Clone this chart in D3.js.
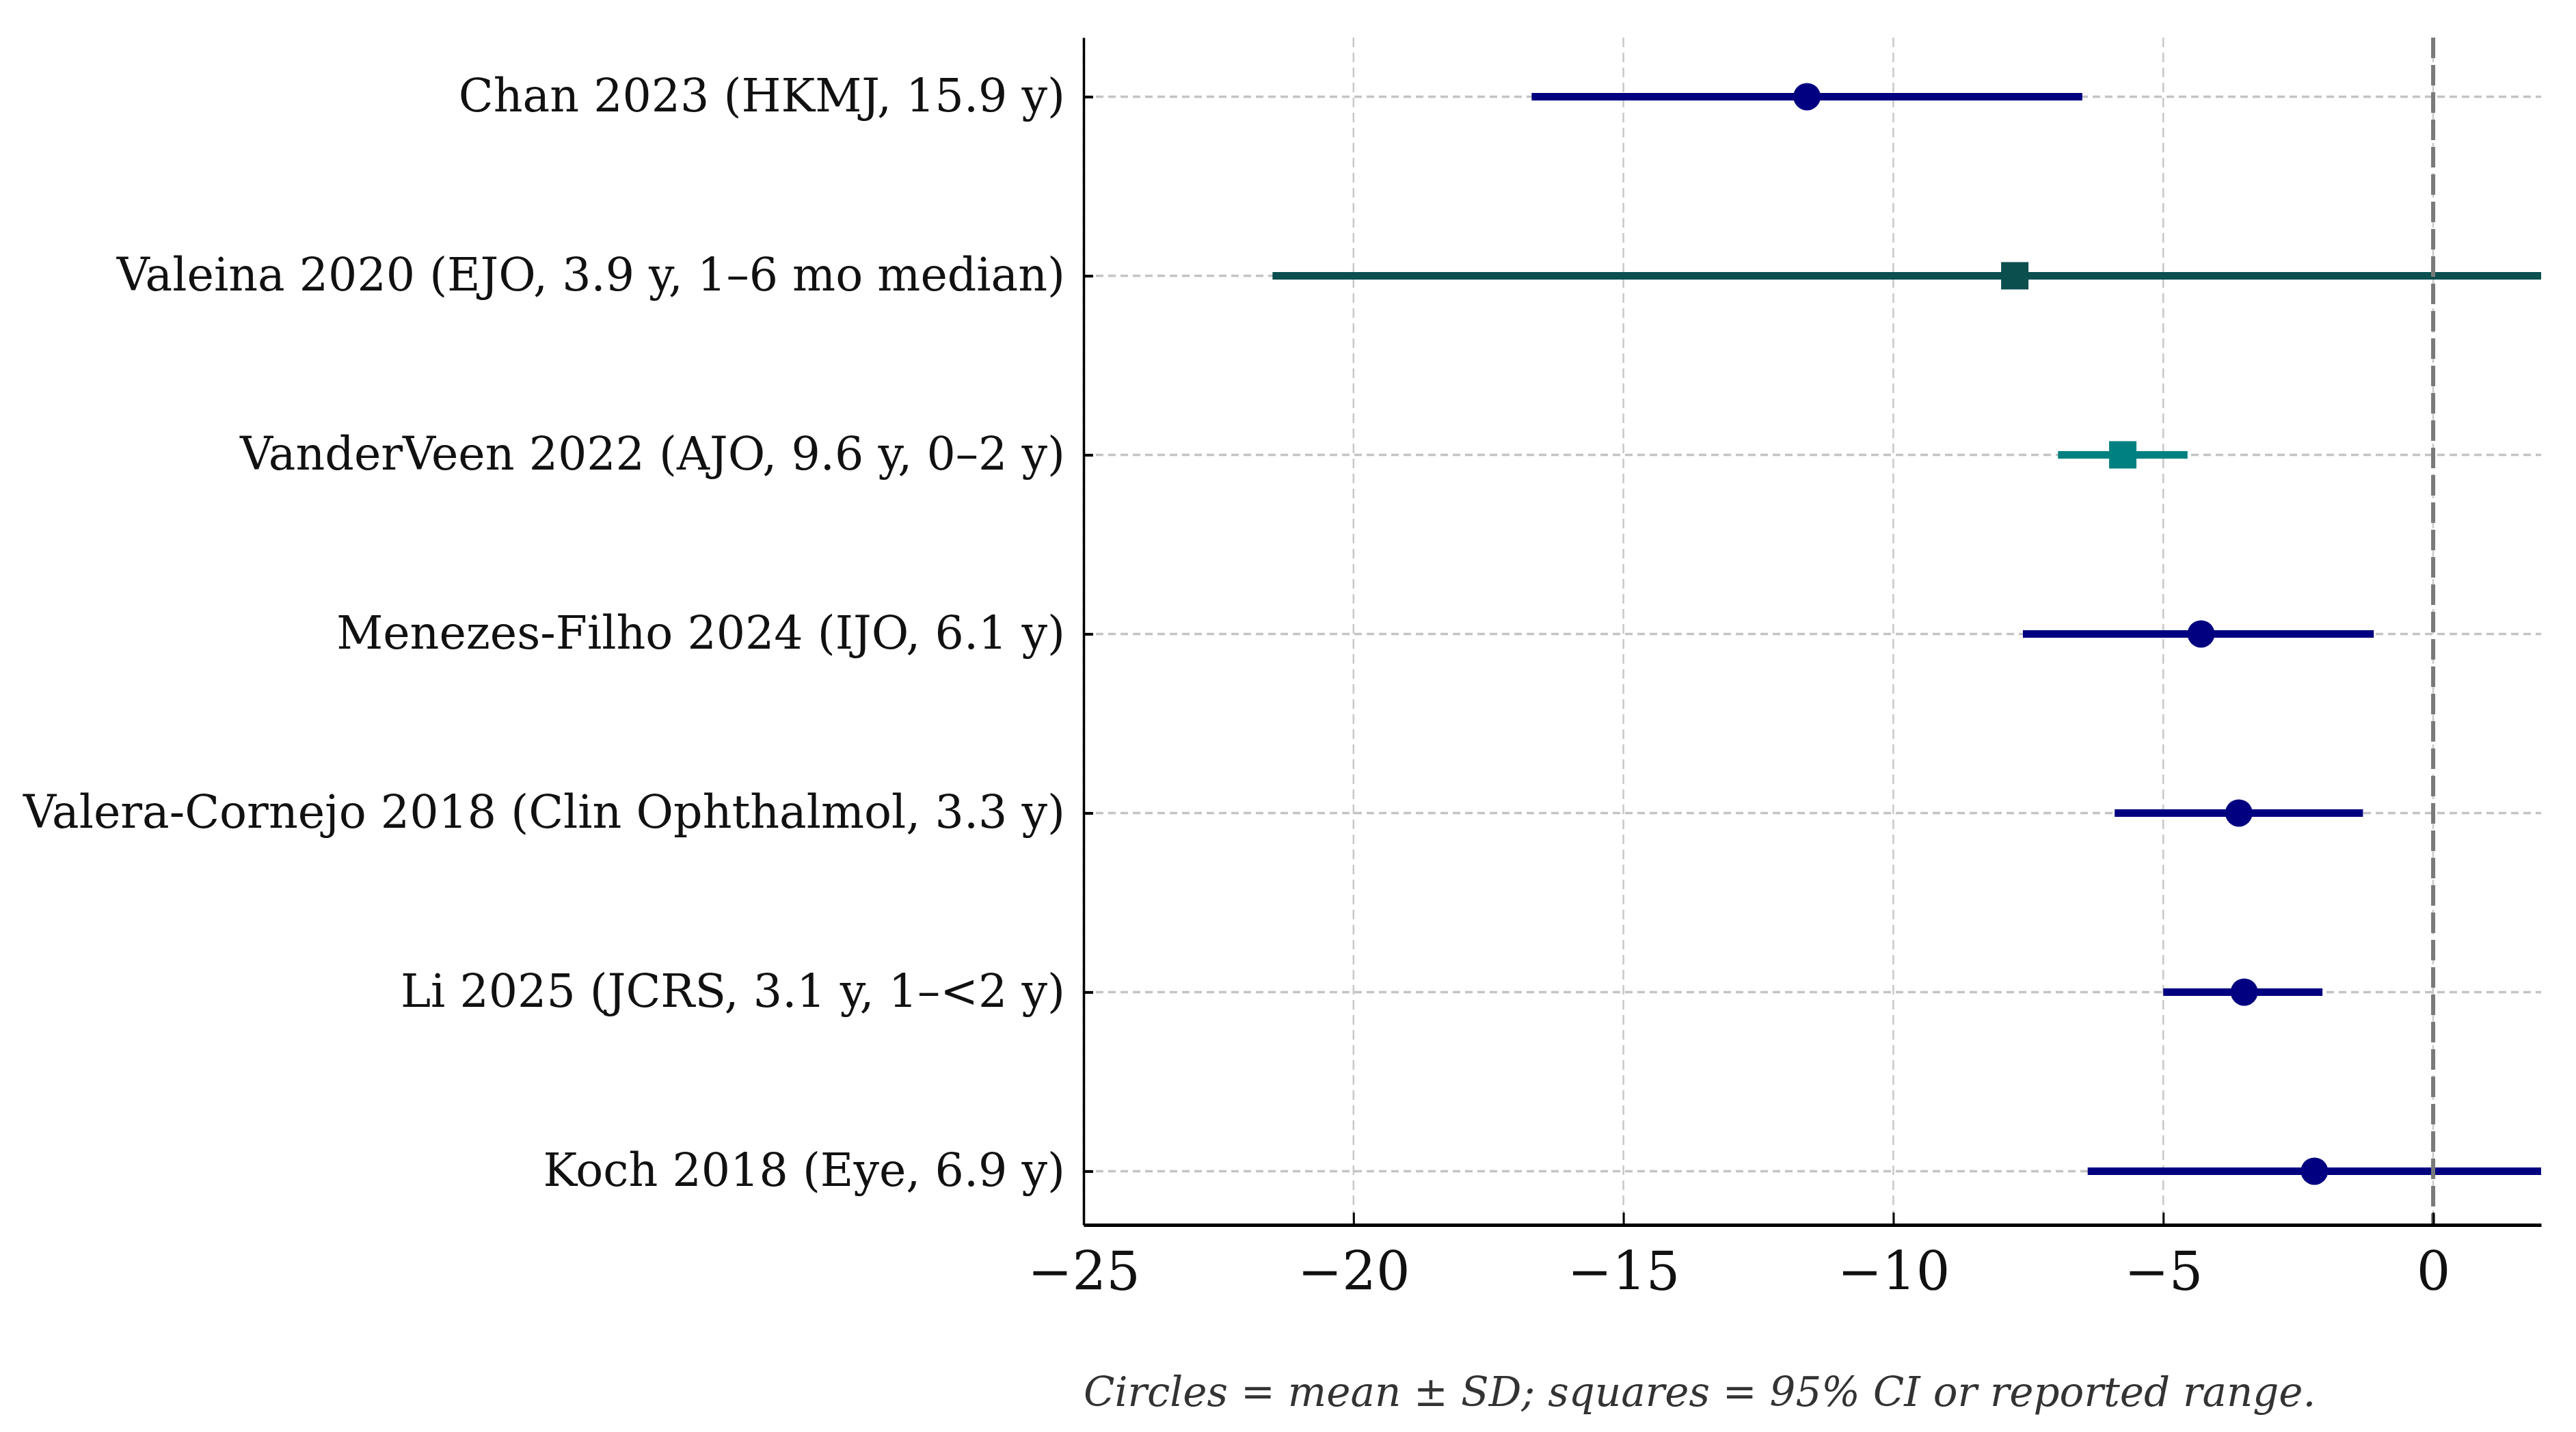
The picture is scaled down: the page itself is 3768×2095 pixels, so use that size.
<!DOCTYPE html>
<html>
<head>
<meta charset="utf-8">
<script src="https://cdn.jsdelivr.net/npm/d3@7"></script>
<style>
  body { margin: 0; background: #fff; }
  text { font-family: "DejaVu Serif", serif; }
</style>
</head>
<body>
<div class="chart"></div>
<script>
// study labels, top to bottom
const studies = [
  "Chan 2023 (HKMJ, 15.9 y)",
  "Valeina 2020 (EJO, 3.9 y, 1–6 mo median)",
  "VanderVeen 2022 (AJO, 9.6 y, 0–2 y)",
  "Menezes-Filho 2024 (IJO, 6.1 y)",
  "Valera-Cornejo 2018 (Clin Ophthalmol, 3.3 y)",
  "Li 2025 (JCRS, 3.1 y, 1–<2 y)",
  "Koch 2018 (Eye, 6.9 y)"
]
const centers = [-11.6, -7.75, -5.75, -4.3, -3.6, -3.5, -2.2]
const lows = [-16.7, -21.5, -6.95, -7.6, -5.9, -5.0, -6.4]
const highs = [-6.5, 6.0, -4.55, -1.1, -1.3, -2.05, 2.0]
const shapes = ["circle", "square", "square", "circle", "circle", "circle", "circle"]
const colors = ["#000080", "#0b4f4f", "#008080", "#000080", "#000080", "#000080", "#000080"]
const xTicks = [-25, -20, -15, -10, -5, 0]
const caption = "Circles = mean ± SD; squares = 95% CI or reported range."

const W = 3768, H = 2095
var margin = {top: 55, right: 51, bottom: 303, left: 1585}
var width = W - margin.left - margin.right,
    height = H - margin.top - margin.bottom

const svg = d3.select(".chart").append("svg")
    .attr("width", W)
    .attr("height", H)
  .append("g")
    .attr("transform", "translate(" + margin.left + "," + margin.top + ")")

const xScale = d3.scaleLinear().domain([-25, 2]).range([0, width])
const yScale = d3.scaleLinear().domain([-0.33, 6.3]).range([0, height])

const rows = studies.map((s, i) => ({label: s, c: centers[i], lo: lows[i], hi: highs[i], shape: shapes[i], color: colors[i]}))

svg.append("clipPath").attr("id", "clip")
  .append("rect").attr("width", width).attr("height", height)

// grid
svg.append("g").selectAll("line").data(xTicks).join("line")
    .attr("x1", d => xScale(d)).attr("x2", d => xScale(d))
    .attr("y1", 0).attr("y2", height)
    .attr("stroke", "#c8c8c8").attr("stroke-width", 2.5)
    .attr("stroke-dasharray", "14,8")

svg.append("g").selectAll("line").data(d3.range(studies.length)).join("line")
    .attr("x1", 0).attr("x2", width)
    .attr("y1", d => yScale(d)).attr("y2", d => yScale(d))
    .attr("stroke", "#c4c4c4").attr("stroke-width", 3.5)
    .attr("stroke-dasharray", "11,7")

const plot = svg.append("g").attr("clip-path", "url(#clip)")

plot.selectAll(".bar").data(rows).join("line")
    .attr("class", "bar")
    .attr("x1", d => xScale(d.lo)).attr("x2", d => xScale(d.hi))
    .attr("y1", (d, i) => yScale(i)).attr("y2", (d, i) => yScale(i))
    .attr("stroke", d => d.color)
    .attr("stroke-width", 11)

// reference line at zero
plot.append("line")
    .attr("x1", xScale(0)).attr("x2", xScale(0))
    .attr("y1", 0).attr("y2", height)
    .attr("stroke", "#7a7a7a").attr("stroke-width", 6)
    .attr("stroke-dasharray", "30,10")

const r = 20
plot.selectAll(".dot").data(rows.filter(d => d.shape == "circle")).join("circle")
    .attr("class", "dot")
    .attr("cx", d => xScale(d.c))
    .attr("cy", d => yScale(studies.indexOf(d.label)))
    .attr("r", r)
    .attr("fill", d => d.color)

plot.selectAll(".sq").data(rows.filter(d => d.shape == "square")).join("rect")
    .attr("class", "sq")
    .attr("x", d => xScale(d.c) - r)
    .attr("y", d => yScale(studies.indexOf(d.label)) - r)
    .attr("width", 2 * r).attr("height", 2 * r)
    .attr("fill", d => d.color)

// axes
const xAxis = d3.axisBottom(xScale)
    .tickValues(xTicks)
    .tickSizeInner(-18)
    .tickSizeOuter(0)
    .tickPadding(40)

const yAxis = d3.axisLeft(yScale)
    .tickValues(d3.range(studies.length))
    .tickFormat(i => studies[i])
    .tickSizeInner(-14)
    .tickSizeOuter(0)
    .tickPadding(27)

const gx = svg.append("g")
    .attr("class", "axis x-axis")
    .attr("transform", `translate(0, ${height})`)
    .call(xAxis)
gx.select(".domain").attr("stroke", "#000").attr("stroke-width", 5)
gx.selectAll(".tick line").attr("stroke", "#000").attr("stroke-width", 3)
gx.selectAll("text").attr("font-size", 78).attr("fill", "#111")

const gy = svg.append("g")
    .attr("class", "axis y-axis")
    .call(yAxis)
gy.select(".domain").attr("stroke", "#000").attr("stroke-width", 3.5)
gy.selectAll(".tick line").attr("stroke", "#000").attr("stroke-width", 4)
gy.selectAll("text").attr("font-size", 66.5).attr("fill", "#111")

svg.append("text")
    .attr("x", 0)
    .attr("y", height + 265)
    .attr("font-size", 59.5)
    .attr("font-style", "italic")
    .attr("fill", "#333")
    .text(caption)
</script>
</body>
</html>
